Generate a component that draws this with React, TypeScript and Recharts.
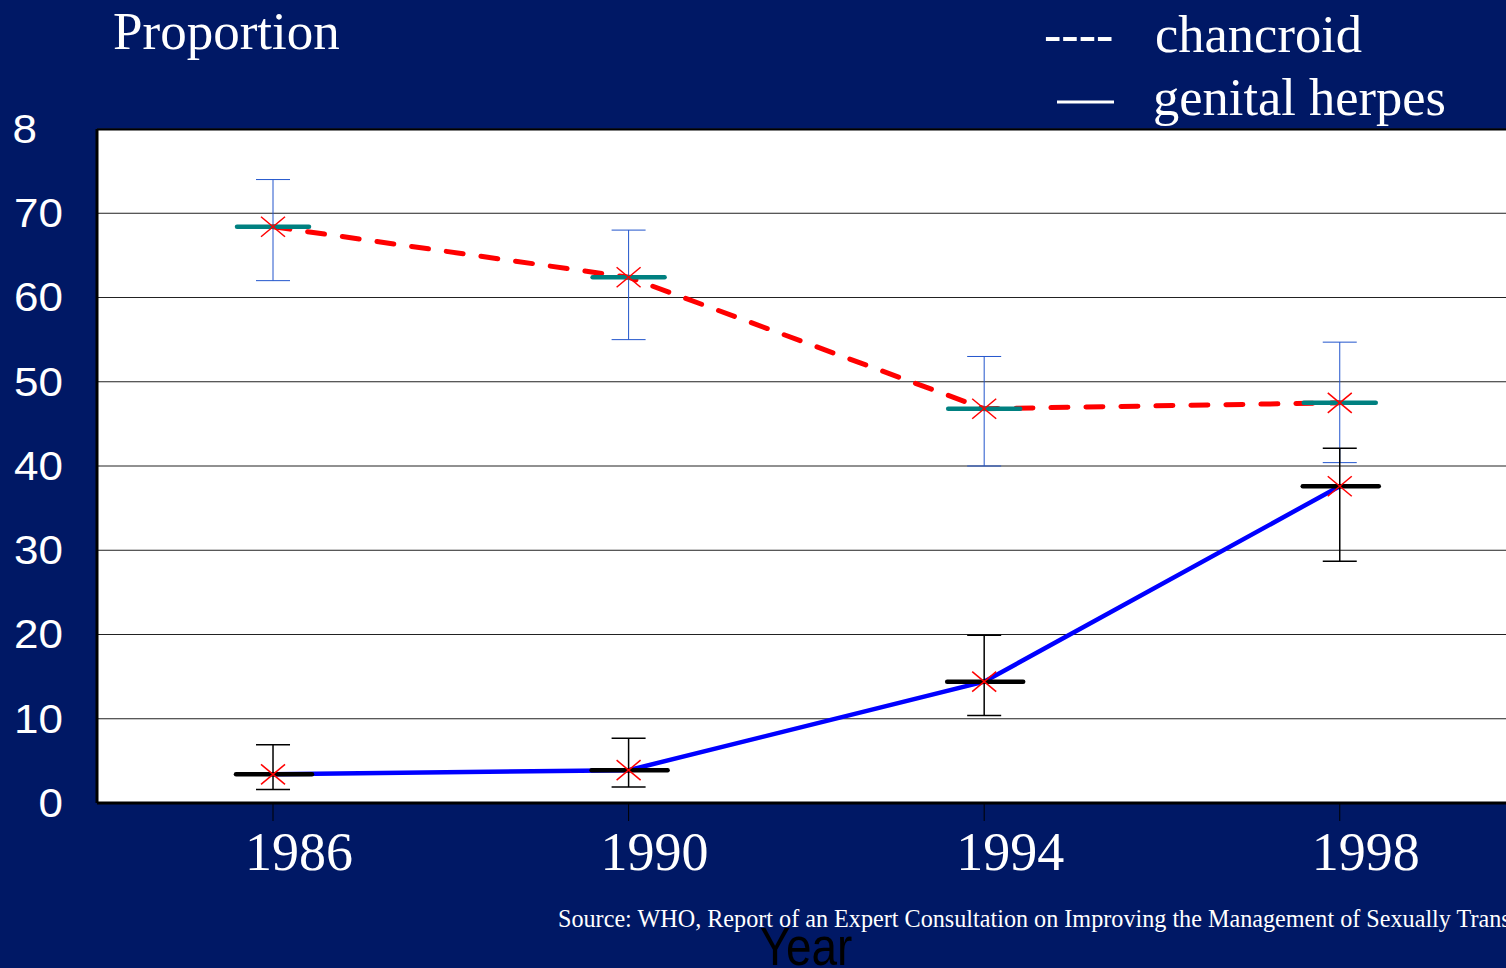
import { LineChart, Line, XAxis, YAxis, CartesianGrid, ErrorBar } from 'recharts'

// Proportion of genital ulcer cases by aetiology, with confidence ranges
const years = [1986, 1990, 1994, 1998]
const chancroid = [68.4, 62.4, 46.8, 47.5]
const chancroidLow = [62.0, 55.0, 40.0, 40.4]
const chancroidHigh = [74.0, 68.0, 53.0, 54.7]
const herpes = [3.4, 3.9, 14.4, 37.6]
const herpesLow = [1.6, 1.9, 10.4, 28.7]
const herpesHigh = [6.9, 7.7, 19.9, 42.1]
const yTicks = [0, 10, 20, 30, 40, 50, 60, 70, 80]

const NAVY = '#001865'
const SERIF = '"Liberation Serif", "Times New Roman", serif'
const SANS = '"Liberation Sans", Arial, sans-serif'

const data = years.map((year, i) => ({
  year,
  chancroid: chancroid[i],
  chancroidErr: [chancroid[i] - chancroidLow[i], chancroidHigh[i] - chancroid[i]],
  herpes: herpes[i],
  herpesErr: [herpes[i] - herpesLow[i], herpesHigh[i] - herpes[i]],
}))

function Cross({ cx, cy }: { cx: number; cy: number }) {
  return (
    <g stroke="#ff0000" strokeWidth={1.5}>
      <line x1={cx - 12} y1={cy - 10} x2={cx + 12} y2={cy + 10} />
      <line x1={cx - 12} y1={cy + 10} x2={cx + 12} y2={cy - 10} />
    </g>
  )
}

const tealBar = (p: any) => (
  <line
    key={`teal-${p.index}`}
    x1={p.cx - 36}
    x2={p.cx + 36}
    y1={p.cy}
    y2={p.cy}
    stroke="#008080"
    strokeWidth={4.5}
    strokeLinecap="round"
  />
)

const redCross = (p: any) => <Cross key={`cx-${p.index}`} cx={p.cx} cy={p.cy} />

const blackBarCross = (p: any) => (
  <g key={`blk-${p.index}`}>
    <line
      x1={p.cx - 37}
      x2={p.cx + 39}
      y1={p.cy}
      y2={p.cy}
      stroke="#000"
      strokeWidth={4.5}
      strokeLinecap="round"
    />
    <Cross cx={p.cx} cy={p.cy} />
  </g>
)

function YTick({ x, y, payload }: any) {
  const v = payload.value as number
  // the top label is clipped to its first digit
  const label = v === 80 ? '8' : String(v)
  return (
    <text
      x={v === 80 ? x - 52 : x - 26}
      y={y}
      dy={14}
      textAnchor="end"
      fill="#fff"
      fontFamily={SANS}
      fontSize={40}
      transform={`translate(${(v === 80 ? x - 52 : x - 26) * -0.1} 0) scale(1.1 1)`}
    >
      {label}
    </text>
  )
}

function XTick({ x, y, payload }: any) {
  return (
    <text x={x + 26} y={y} dy={47} textAnchor="middle" fill="#fff" fontFamily={SERIF} fontSize={54}>
      {payload.value}
    </text>
  )
}

export default function App() {
  return (
    <div
      style={{
        position: 'absolute',
        left: 0,
        top: 0,
        width: 1506,
        height: 968,
        background: NAVY,
        overflow: 'hidden',
      }}
    >
      <LineChart width={1506} height={968} data={data} margin={{ top: 129, right: 0, bottom: 0, left: 0 }}>
        <CartesianGrid vertical={false} stroke="#222" strokeWidth={1} fill="#fff" fillOpacity={1} />
        <XAxis
          dataKey="year"
          type="number"
          domain={[1984.02, 1999.87]}
          allowDataOverflow
          ticks={years}
          interval={0}
          height={165}
          axisLine={{ stroke: '#000', strokeWidth: 3 }}
          tickLine={{ stroke: '#000', strokeWidth: 1 }}
          tickSize={18}
          tickMargin={2}
          tick={<XTick />}
        />
        <YAxis
          type="number"
          domain={[0, 80]}
          ticks={yTicks}
          interval={0}
          width={97}
          axisLine={{ stroke: '#000', strokeWidth: 3 }}
          tickLine={false}
          tickSize={6}
          tickMargin={2}
          tick={<YTick />}
        />
        <Line
          dataKey="chancroid"
          stroke="none"
          dot={tealBar}
          activeDot={false}
          isAnimationActive={false}
        >
          <ErrorBar dataKey="chancroidErr" direction="y" width={17} stroke="#2255cc" strokeWidth={1} />
        </Line>
        <Line
          dataKey="chancroid"
          stroke="#ff0000"
          strokeWidth={5}
          strokeDasharray="17 18"
          strokeLinecap="round"
          dot={redCross}
          activeDot={false}
          isAnimationActive={false}
        />
        <Line
          dataKey="herpes"
          stroke="#0000ff"
          strokeWidth={4.5}
          dot={false}
          activeDot={false}
          isAnimationActive={false}
        />
        <Line
          dataKey="herpes"
          stroke="none"
          dot={blackBarCross}
          activeDot={false}
          isAnimationActive={false}
        >
          <ErrorBar dataKey="herpesErr" direction="y" width={17} stroke="#000" strokeWidth={1.5} />
        </Line>
      </LineChart>

      <svg
        width={1506}
        height={968}
        style={{ position: 'absolute', left: 0, top: 0, pointerEvents: 'none', overflow: 'hidden' }}
      >
        <line x1={97} x2={1506} y1={129.5} y2={129.5} stroke="#000" strokeWidth={2} />
        <text x={113} y={49} fill="#fff" fontFamily={SERIF} fontSize={53}>
          Proportion
        </text>
        <text x={1044} y={52} fill="#fff" fontFamily={SERIF} fontSize={52}>
          ----
        </text>
        <text x={1155} y={52} fill="#fff" fontFamily={SERIF} fontSize={52.5}>
          chancroid
        </text>
        <line x1={1057} x2={1114} y1={102} y2={102} stroke="#fff" strokeWidth={3} />
        <text x={1153} y={115} fill="#fff" fontFamily={SERIF} fontSize={52.5}>
          genital herpes
        </text>
        <text
          transform="translate(558,927) scale(0.93,1)"
          fill="#fff"
          fontFamily={SERIF}
          fontSize={26}
        >
          Source: WHO, Report of an Expert Consultation on Improving the Management of Sexually Transmitted Infections
        </text>
        <text
          transform="translate(806,965) scale(0.85,1)"
          textAnchor="middle"
          fill="#000"
          fontFamily={SANS}
          fontSize={54}
        >
          Year
        </text>
      </svg>
    </div>
  )
}
